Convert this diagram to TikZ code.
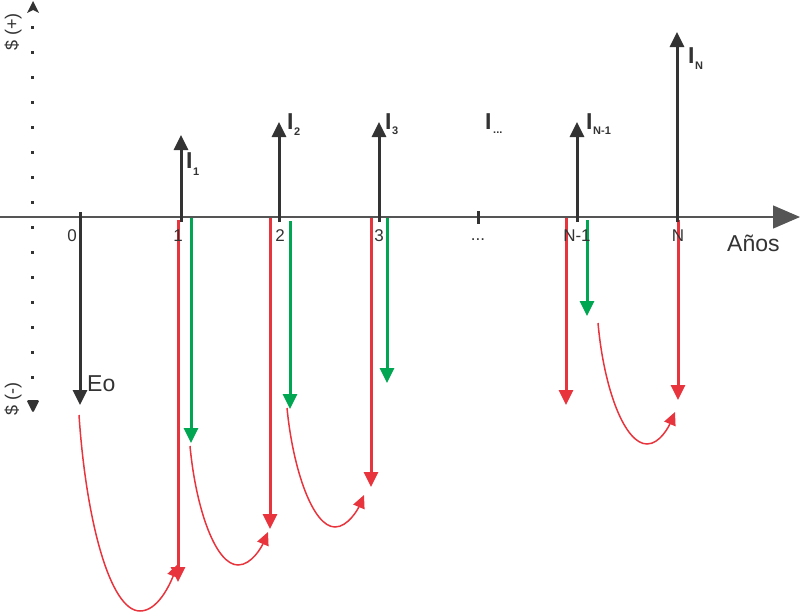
\documentclass[tikz,border=0pt]{standalone}
\usepackage{fontspec}
\setmainfont{Liberation Sans}
\usetikzlibrary{arrows.meta}
\definecolor{cblk}{HTML}{333333}
\definecolor{cred}{HTML}{E8353D}
\definecolor{cgrn}{HTML}{00A651}
\definecolor{caxis}{HTML}{555555}
\begin{document}
\begin{tikzpicture}[x=1pt,y=-1pt,
  vec/.style={line width=3pt,-{Triangle[length=15pt,width=14pt]}},
  blkvec/.style={vec,draw=cblk},
  redvec/.style={vec,draw=cred},
  grnvec/.style={vec,draw=cgrn},
  carry/.style={draw=cred,line width=1.5pt,-{Triangle[length=13pt,width=12pt]}},
  num/.style={inner sep=0pt,anchor=base,font=\fontsize{17}{17}\selectfont,text=cblk},
  ilab/.style={inner sep=0pt,anchor=base west,text=cblk,font=\fontsize{23}{23}\selectfont\bfseries},
  isub/.style={inner sep=0pt,anchor=base west,text=cblk,font=\fontsize{11}{11}\selectfont\bfseries},
  side/.style={inner sep=0pt,rotate=90,text=cblk,font=\fontsize{18}{18}\selectfont}
]
\useasboundingbox (0,0) rectangle (801,613);

% horizontal axis
\coordinate (xa0) at (0,217);
\coordinate (xa1) at (800,217);
\draw[draw=caxis,line width=1.2pt,-{Triangle[length=27pt,width=23pt]}] (xa0) -- (xa1);

% vertical dotted axis
\foreach \i in {0,...,14} \fill[cblk] (31,25.5+25*\i) rectangle +(3.2,3.2);
\fill[cblk] (33,1) -- (39,13) -- (33,10) -- (27,13) -- cycle;
\fill[cblk,rounded corners=1.5pt] (26.5,400) -- (39.5,400) -- (33,413) -- cycle;
\node[side] (sp) at (13,32) {\$ (+)};
\node[side] (sm) at (13,399) {\$ (-)};

% black vectors
\coordinate (b0s) at (80,212);  \coordinate (b0e) at (80,405);
\coordinate (b1s) at (181,222); \coordinate (b1e) at (181,135);
\coordinate (b2s) at (279,222); \coordinate (b2e) at (279,122);
\coordinate (b3s) at (379,222); \coordinate (b3e) at (379,122);
\coordinate (b5s) at (577,222); \coordinate (b5e) at (577,122);
\coordinate (b6s) at (677,222); \coordinate (b6e) at (677,32);
\coordinate (t4s) at (478,211); \coordinate (t4e) at (478,224);
\draw[line width=3pt,draw=cblk] (t4s) -- (t4e);

% red vectors
\coordinate (r1s) at (178,220); \coordinate (r1e) at (178,582);
\coordinate (r2s) at (270,218); \coordinate (r2e) at (270,529);
\coordinate (r3s) at (371,218); \coordinate (r3e) at (371,487);
\coordinate (r5s) at (566,218); \coordinate (r5e) at (566,405);
\coordinate (r6s) at (678,220); \coordinate (r6e) at (678,400);
\draw[redvec] (r1s) -- (r1e);
\draw[redvec] (r2s) -- (r2e);
\draw[redvec] (r3s) -- (r3e);
\draw[redvec] (r5s) -- (r5e);
\draw[redvec] (r6s) -- (r6e);

% green vectors
\coordinate (g1s) at (191,218); \coordinate (g1e) at (191,443);
\coordinate (g2s) at (290,221); \coordinate (g2e) at (290,409);
\coordinate (g3s) at (387,218); \coordinate (g3e) at (387,383);
\coordinate (g5s) at (587,220); \coordinate (g5e) at (587,316);
\draw[grnvec] (g1s) -- (g1e);
\draw[grnvec] (g2s) -- (g2e);
\draw[grnvec] (g3s) -- (g3e);
\draw[grnvec] (g5s) -- (g5e);

\draw[blkvec] (b0s) -- (b0e);
\draw[blkvec] (b1s) -- (b1e);
\draw[blkvec] (b2s) -- (b2e);
\draw[blkvec] (b3s) -- (b3e);
\draw[blkvec] (b5s) -- (b5e);
\draw[blkvec] (b6s) -- (b6e);

% carry curves
\coordinate (c1s) at (79,415);  \coordinate (c1b) at (140,611); \coordinate (c1e) at (178,564);
\coordinate (c2s) at (190,446); \coordinate (c2b) at (238,565); \coordinate (c2e) at (268,532);
\coordinate (c3s) at (287,408); \coordinate (c3b) at (335,527); \coordinate (c3e) at (364,495);
\coordinate (c4s) at (598,323); \coordinate (c4b) at (647,444); \coordinate (c4e) at (675,412);
\draw[carry] (c1s) .. controls (86,520) and (110,611) .. (c1b) .. controls (158,611) and (170,584) .. (c1e);
\draw[carry] (c2s) .. controls (196,510) and (216,565) .. (c2b) .. controls (252,565) and (262,546) .. (c2e);
\draw[carry] (c3s) .. controls (293,470) and (313,527) .. (c3b) .. controls (348,527) and (358,509) .. (c3e);
\draw[carry] (c4s) .. controls (604,390) and (625,444) .. (c4b) .. controls (660,444) and (669,426) .. (c4e);

% axis labels
\node[num] (n0) at (72,241) {0};
\node[num] (n1) at (178,241) {1};
\node[num] (n2) at (280,241) {2};
\node[num] (n3) at (379,241) {3};
\node[num] (n4) at (478,240) {...};
\node[num] (n5) at (577,241) {N-1};
\node[num] (n6) at (678,241) {N};
\node[inner sep=0pt,anchor=base west,text=cblk,font=\fontsize{23}{23}\selectfont] (anos) at (727,251) {Años};
\node[inner sep=0pt,anchor=base west,text=cblk,font=\fontsize{23}{23}\selectfont] (eo) at (87,391) {Eo};

% I labels
\node[ilab] (i1) at (186,168) {I};  \node[isub] (i1s) at (193,175) {1};
\node[ilab] (i2) at (287,129) {I};  \node[isub] (i2s) at (294,135) {2};
\node[ilab] (i3) at (385,129) {I};  \node[isub] (i3s) at (392,134) {3};
\node[ilab] (i4) at (485,129) {I};  \node[isub] (i4s) at (493,133) {...};
\node[ilab] (i5) at (586,129) {I};  \node[isub] (i5s) at (593,134) {N-1};
\node[ilab] (i6) at (688,63) {I};   \node[isub] (i6s) at (695,69) {N};
\end{tikzpicture}
\end{document}
